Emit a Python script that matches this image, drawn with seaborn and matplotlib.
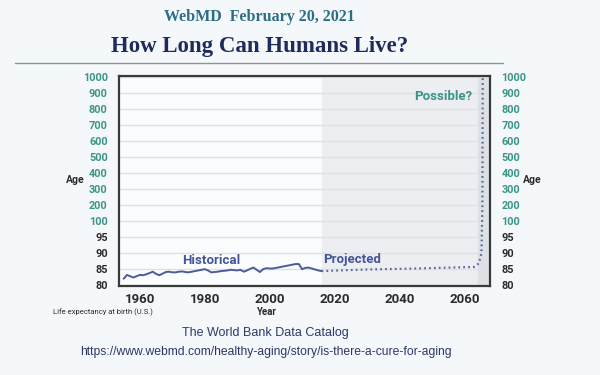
import numpy as np
import pandas as pd
import matplotlib.pyplot as plt
import seaborn as sns
from matplotlib.lines import Line2D

# tick ages on the stretched axis (equal spacing between ticks)
tick_ages = [80, 85, 90, 95, 100, 200, 300, 400, 500, 600, 700, 800, 900, 1000]

# historical life expectancy (as drawn)
hist_years = list(range(1955, 2017))
hist_age = [82.0, 83.2, 82.8, 82.4, 82.8, 83.2, 83.1, 83.4, 83.8, 84.2,
            83.5, 83.1, 83.6, 84.1, 84.2, 84.0, 84.0, 84.2, 84.3, 84.1,
            84.0, 84.2, 84.4, 84.6, 84.8, 85.0, 84.6, 84.0, 84.1, 84.2,
            84.4, 84.5, 84.6, 84.8, 84.7, 84.6, 84.8, 84.2, 84.6, 85.1,
            85.5, 84.8, 84.1, 85.0, 85.3, 85.2, 85.2, 85.4, 85.6, 85.8,
            86.0, 86.2, 86.4, 86.6, 86.6, 85.0, 85.4, 85.5, 85.2, 84.9,
            84.6, 84.4]

# projected + "possible" jump
proj_years = [2016, 2030, 2045, 2063, 2064.5, 2065.3, 2065.6, 2065.7]
proj_age = [84.4, 84.9, 85.2, 85.7, 86.8, 90, 200, 1000]

x_ticks = [1960, 1980, 2000, 2020, 2040, 2060]

ext_ages = [75] + tick_ages + [1100]
ext_pos = [-1] + list(range(len(tick_ages))) + [len(tick_ages)]


def fwd(v):
    return np.interp(v, ext_ages, ext_pos)


def inv(p):
    return np.interp(p, ext_pos, ext_ages)


hist = pd.DataFrame({'year': hist_years, 'age': hist_age})
proj = pd.DataFrame({'year': proj_years, 'age': proj_age})

sns.set_theme(style='white')
plt.rcParams['font.family'] = ['Roboto', 'DejaVu Sans']

bg = '#f4f8fa'
fig = plt.figure(figsize=(6, 3.75), dpi=100, facecolor=bg)
ax = fig.add_axes([0.198, 0.237, 0.619, 0.56])
ax.set_facecolor('#fbfcfd')
ax.set_yscale('function', functions=(fwd, inv))

ax.axvspan(2016, 2068, color='#eceef1', zorder=0)
ax.axvspan(2064.3, 2068, color='#dde0e4', zorder=0)

for a in tick_ages:
    ax.axhline(a, color='#dde1e6', lw=1, zorder=1)

line_col = '#4c5c98'
sns.lineplot(data=hist, x='year', y='age', ax=ax, color=line_col, lw=1.4, zorder=3)
sns.lineplot(data=proj, x='year', y='age', ax=ax, color='#5a6b9c', lw=1.6,
             linestyle=(0, (0.8, 1.4)), zorder=3)

ax.set_xlim(1953.5, 2068)
ax.set_ylim(inv(-0.06), inv(13.06))
ax.set_yticks(tick_ages)
ax.set_yticklabels([str(a) for a in tick_ages])
ax.set_xticks(x_ticks)
ax.set_xticklabels([str(x) for x in x_ticks])
ax.set_xlabel('')
ax.set_ylabel('')

ax.tick_params(axis='y', left=False, right=False, labelleft=True, labelright=True,
               labelsize=7.8, pad=2)
ax.tick_params(axis='x', direction='in', length=3, width=1, color='#333333',
               labelsize=9.5, pad=5)
for lab in ax.get_xticklabels():
    lab.set_fontweight('bold')
    lab.set_color('#2b2b2b')

teal = '#3b9487'
for t, a in zip(ax.yaxis.get_major_ticks(), tick_ages):
    c = teal if a >= 100 else '#2b2b2b'
    for lab in (t.label1, t.label2):
        lab.set_color(c)
        lab.set_fontweight('bold')

for s in ax.spines.values():
    s.set_color('#3a3a3a')
    s.set_linewidth(1.6)
    s.set_visible(True)

ax.text(1973, 87.6, 'Historical', color='#44549a', fontsize=9.5,
        fontweight='bold', ha='left', va='center')
ax.text(2016.5, 88.0, 'Projected', color='#44549a', fontsize=9.5,
        fontweight='bold', ha='left', va='center')
ax.text(2062.5, 880, 'Possible?', color=teal, fontsize=9.5,
        fontweight='bold', ha='right', va='center')

fig.text(0.125, 0.52, 'Age', fontsize=7.5, fontweight='bold', color='#2b2b2b',
         ha='center', va='center')
fig.text(0.887, 0.52, 'Age', fontsize=7.5, fontweight='bold', color='#2b2b2b',
         ha='center', va='center')
fig.text(0.088, 0.168, 'Life expectancy at birth (U.S.)', fontsize=5.5,
         color='#2b2b2b', ha='left', va='center')
fig.text(0.443, 0.168, 'Year', fontsize=7, fontweight='bold', color='#2b2b2b',
         ha='center', va='center')

fig.text(0.433, 0.955, 'WebMD  February 20, 2021', fontsize=11.5,
         family=['Liberation Serif', 'DejaVu Serif'], fontweight='bold',
         color='#2b6e85', ha='center', va='center')
fig.text(0.433, 0.877, 'How Long Can Humans Live?', fontsize=16.5,
         family=['Liberation Serif', 'DejaVu Serif'], fontweight='bold',
         color='#1f2b5c', ha='center', va='center')
fig.add_artist(Line2D([0.025, 0.838], [0.832, 0.832], transform=fig.transFigure,
                      color='#8d939b', lw=1))

narrow = ['Liberation Sans Narrow', 'Liberation Sans', 'DejaVu Sans']
fig.text(0.443, 0.112, 'The World Bank Data Catalog', fontsize=9,
         family=narrow, color='#2e3868', ha='center', va='center')
fig.text(0.443, 0.06, 'https://www.webmd.com/healthy-aging/story/is-there-a-cure-for-aging',
         fontsize=8.7, family=narrow, color='#2e3868', ha='center', va='center')

fig.savefig('out.png', dpi=100, facecolor=bg)
